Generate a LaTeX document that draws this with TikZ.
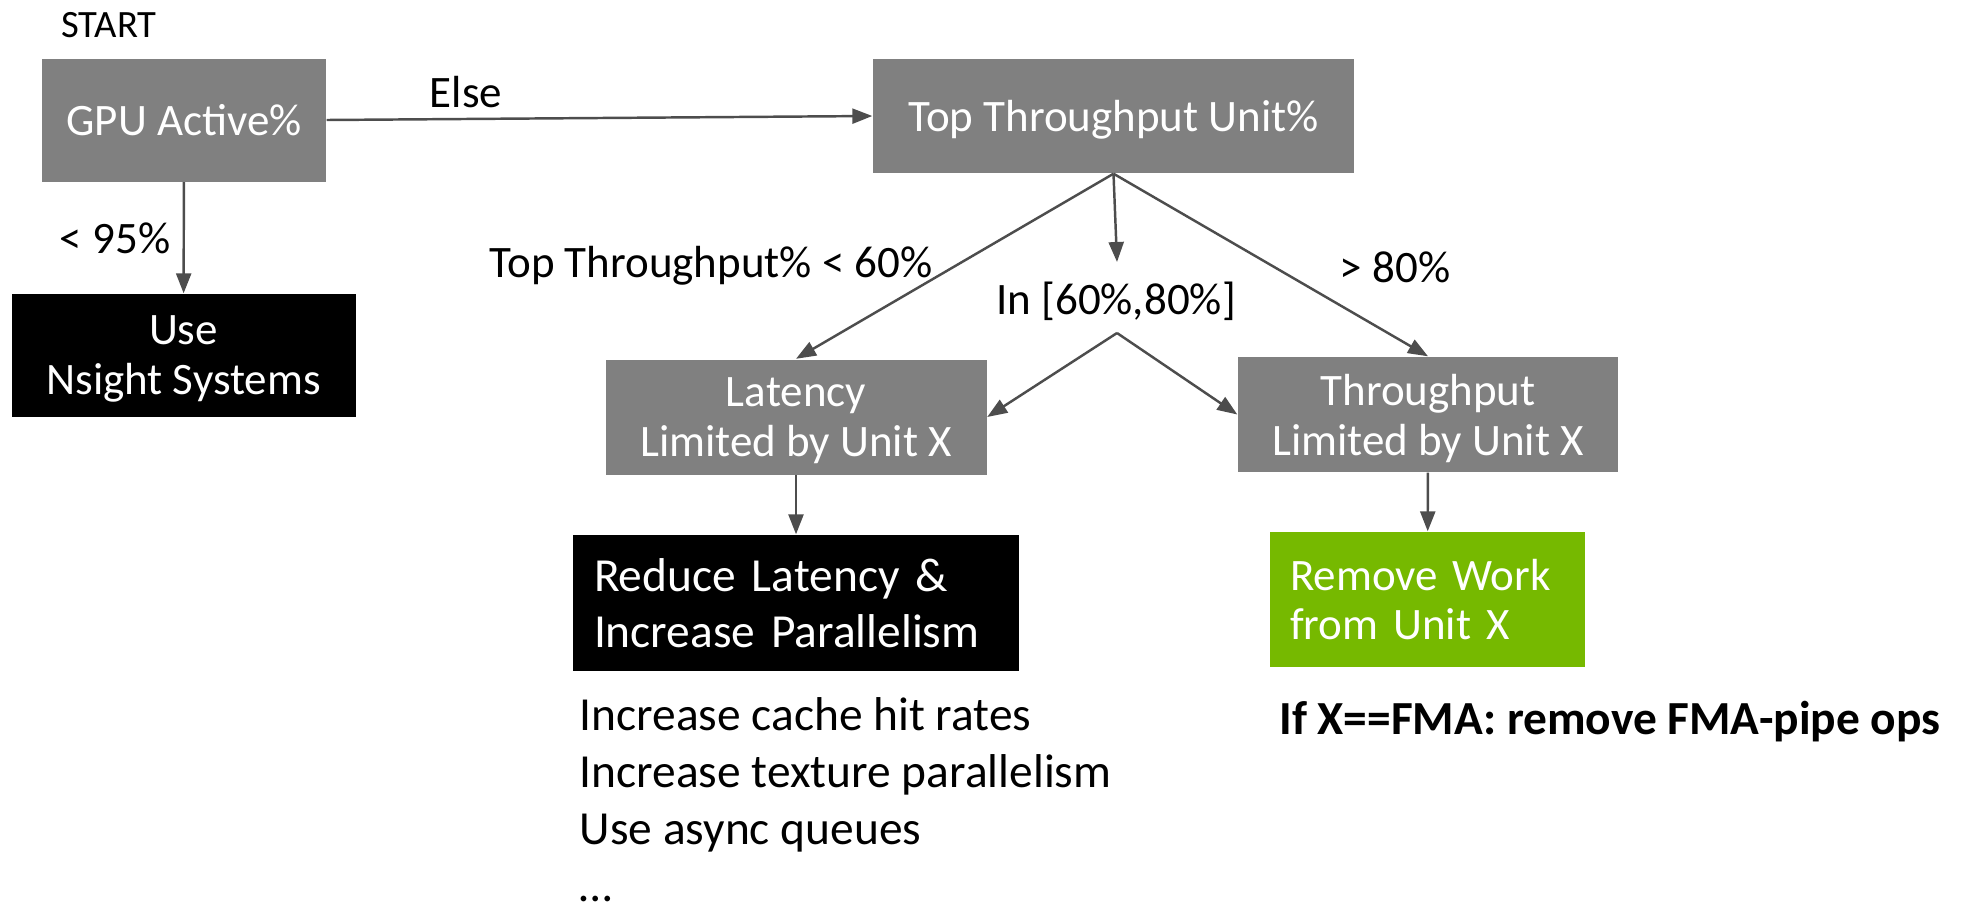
\documentclass[tikz,border=0pt]{standalone}
\usepackage{fontspec}
\setmainfont{Carlito}
\usepackage{tikz}
\usetikzlibrary{arrows.meta,positioning}
\definecolor{boxgray}{HTML}{808080}
\definecolor{arrowgray}{HTML}{4D4D4D}
\definecolor{nvgreen}{HTML}{76B900}
\newcommand{\dinfont}{\fontsize{12.8}{14.2}\selectfont}
\newcommand{\bodyfont}{\fontsize{13.5}{16}\selectfont}
\tikzset{
 flow box/.style={fill=boxgray,text=white,align=center,inner sep=0pt,
                  text depth=0pt,font=\dinfont},
 flow stop/.style={flow box,fill=black},
 flow fix/.style={fill=nvgreen,text=white,align=left,inner ysep=0pt},
 flow arrow/.style={draw=arrowgray,line width=0.7pt,
                    -{Triangle[length=2mm,width=1.5mm]}},
 flow label/.style={font=\dinfont,inner sep=0pt},
 flow note/.style={font=\bodyfont,inner sep=0pt}
}

\begin{document}
\begin{tikzpicture}[x=0.1mm,y=-0.1mm]
 \useasboundingbox (0,0) rectangle (1962,908);
 \node[flow label,font=\fontsize{11}{13}\selectfont] (start) at (109,25) {START};
 \node[flow box,minimum width=28.4mm,minimum height=12.3mm] (gpu) at (184,120)
   {GPU Active\%};
 \node[flow stop,minimum width=34.4mm,minimum height=12.3mm] (nsight)
   at (183.5,355.5) {Use\\Nsight Systems};
 \node[flow box,minimum width=48.1mm,minimum height=11.4mm] (top) at (1113.5,116)
   {Top Throughput Unit\%};
 \node[flow box,minimum width=38.1mm,minimum height=11.5mm] (lat) at (796,417)
   {Latency\\Limited by Unit X};
 \node[flow box,minimum width=38mm,minimum height=11.5mm] (thr) at (1428,414.5)
   {Throughput\\Limited by Unit X};
 \node[flow fix,fill=black,font=\bodyfont,text width=40.4mm,inner xsep=2.1mm,
   minimum height=13.6mm] (reduce) at (796,603)
   {Reduce Latency \&\\Increase Parallelism};
 \node[flow fix,font=\dinfont,text width=27.5mm,inner xsep=2mm,
   minimum height=13.5mm] (remove) at (1427.5,599.5)
   {Remove Work\\from Unit X};
 \coordinate (mid) at (1117,262);
 \coordinate (split) at (1117,333);

 \draw[flow arrow] (gpu) -- (nsight);
 \draw[flow arrow] (gpu.east) -- (top.west);
 \draw[flow arrow] (top.south) -- (lat.north);
 \draw[flow arrow] (top.south) -- (mid);
 \draw[flow arrow] (top.south) -- (thr.north);
 \draw[flow arrow] (split) -- (lat.east);
 \draw[flow arrow] (split) -- (thr.west);
 \draw[flow arrow] (lat) -- (reduce);
 \draw[flow arrow] (thr) -- (remove);

 \node[flow label] (lowgpu) at (115,238) {< 95\%};
 \node[flow label] (else) at (466,92) {Else};
 \node[flow label] (low) at (711,266) {Top Throughput\% < 60\%};
 \node[flow label] (band) at (1116,301) {In [60\%,80\%]};
 \node[flow label] (high) at (1395,267) {> 80\%};

 \foreach \txt [count=\i from 0] in {Increase cache hit rates,
   Increase texture parallelism,Use async queues,…}
   \node[flow note,anchor=base west] (tip\i) at (579,730+57.3*\i) {\txt};
 \node[flow note,font=\bodyfont\bfseries] (fma) at (1610,722)
   {If X==FMA: remove FMA-pipe ops};
\end{tikzpicture}
\end{document}
